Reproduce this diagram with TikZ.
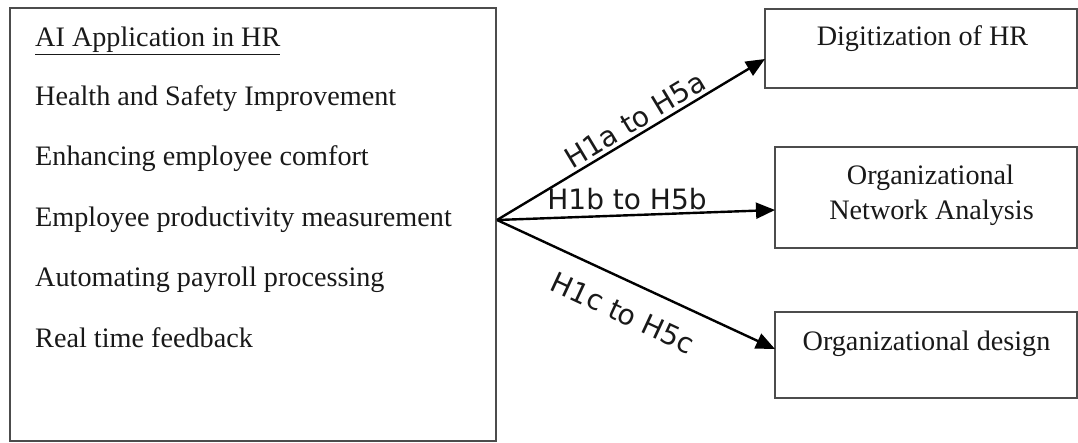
\documentclass[tikz,border=0pt]{standalone}
\usepackage{fontspec}
\setmainfont{Liberation Serif}
\newfontfamily\labfont{DejaVu Sans}
\usetikzlibrary{arrows.meta}
\tikzset{
  box/.style={draw=black!70, line width=1.8pt, rectangle, inner sep=0pt},
  txt/.style={font=\fontsize{28.2}{30}\selectfont, text=black!90, inner sep=0pt, anchor=base west},
  ctxt/.style={font=\fontsize{28.2}{30}\selectfont, text=black!90, inner sep=0pt, anchor=base},
  lab/.style={font=\labfont\fontsize{28}{30}\selectfont, text=black!90, inner sep=0pt},
  arr/.style={line width=2.4pt, -{Triangle[length=19pt,width=16pt]}}
}
\begin{document}
\begin{tikzpicture}[x=1pt,y=1pt]
\useasboundingbox[fill=white] (0,0) rectangle (1078,-443);
% boxes
\node[box, minimum width=486pt, minimum height=433pt] (left) at (253,-224.5) {};
\node[box, minimum width=312pt, minimum height=79pt] (b1) at (921,-48.5) {};
\node[box, minimum width=302pt, minimum height=101pt] (b2) at (926,-197.5) {};
\node[box, minimum width=302pt, minimum height=86pt] (b3) at (926,-355) {};
% left texts
\node[txt] (t0) at (35,-47) {\underline{AI Application in HR}};
\node[txt] (t1) at (35,-106) {Health and Safety Improvement};
\node[txt] (t2) at (35,-166) {Enhancing employee comfort};
\node[txt] (t3) at (35,-227) {Employee productivity measurement};
\node[txt] (t4) at (35,-287) {Automating payroll processing};
\node[txt] (t5) at (35,-347) {Real time feedback};
% right texts
\node[ctxt] (r1) at (922.5,-46) {Digitization of HR};
\node[ctxt] (r2a) at (930.5,-185) {Organizational};
\node[ctxt] (r2b) at (931.5,-220) {Network Analysis};
\node[ctxt] (r3) at (926.5,-350) {Organizational design};
% arrows
\coordinate (src) at (497,-220);
\coordinate (e1) at (765,-59);
\coordinate (e2) at (775,-210);
\coordinate (e3) at (775,-349);
\draw[arr] (src) -- (e1);
\draw[arr] (src) -- (e2);
\draw[arr] (src) -- (e3);
% labels
\node[lab, rotate=31] (l1) at (635,-120) {H1a to H5a};
\node[lab] (l2) at (627,-199) {H1b to H5b};
\node[lab, rotate=-24.9] (l3) at (623,-313) {H1c to H5c};
\end{tikzpicture}
\end{document}
